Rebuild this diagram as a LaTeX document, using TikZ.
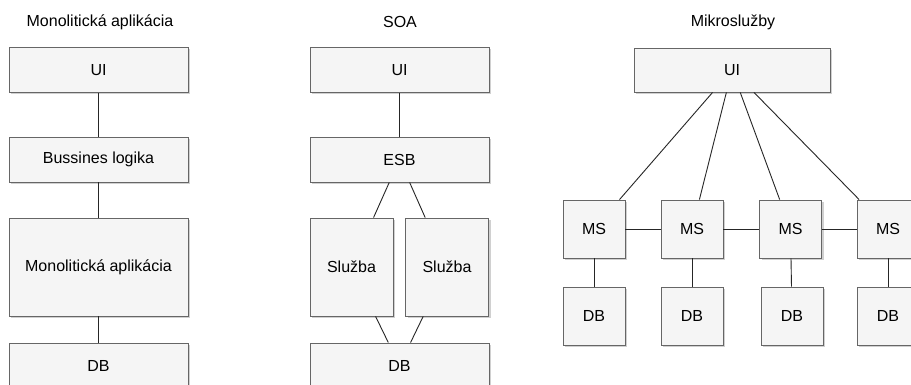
\documentclass[tikz,border=0pt]{standalone}
\usepackage{fontspec}
\setmainfont{Liberation Sans}
\usetikzlibrary{shadows}

\begin{document}
\begin{tikzpicture}[x=1pt, y=-1pt,
    every node/.style={font=\fontsize{16}{19}\selectfont},
    box/.style={draw=black!60, fill=black!4, line width=0.9pt, inner sep=0pt,
        drop shadow={shadow xshift=2pt, shadow yshift=-2pt, opacity=0.3, fill=black!60}},
    wide/.style={box, minimum width=179pt, minimum height=45pt},
    small/.style={box, minimum width=62pt, minimum height=58pt},
    link/.style={draw=black!85, line width=0.9pt}]
    \path[use as bounding box, clip] (0,0) rectangle (911,385);
    \fill[white] (0,0) rectangle (911,385);

    % Monolit
    \node (t1) at (100,22) {Monolitická aplikácia};
    \node[wide] (ui1) at (98.5,70) {UI};
    \node[wide] (bl) at (98.5,159.5) {Bussines logika};
    \node[wide, minimum height=98pt] (mono) at (98.5,267) {Monolitická aplikácia};
    \node[wide] (db1) at (98.5,365.5) {DB};
    \draw[link] (ui1) -- (bl);
    \draw[link] (bl) -- (mono);
    \draw[link] (mono) -- (db1);

    % SOA
    \node (t2) at (400,22) {SOA};
    \node[wide] (ui2) at (399.5,70) {UI};
    \node[wide] (esb) at (399.5,159.5) {ESB};
    \node[box, minimum width=83pt, minimum height=98pt] (sl1) at (351.5,267) {Služba};
    \node[box, minimum width=83pt, minimum height=98pt] (sl2) at (447,267) {Služba};
    \node[wide] (db2) at (399.5,365.5) {DB};
    \draw[link] (ui2) -- (esb);
    \draw[link] (esb) -- (sl1);
    \draw[link] (esb) -- (sl2);
    \draw[link] (sl1) -- (db2);
    \draw[link] (sl2) -- (db2);

    % Mikrosluzby
    \node (t3) at (733,22) {Mikroslužby};
    \node[wide, minimum width=196pt, minimum height=44pt] (ui3) at (732,70) {UI};
    \foreach \i/\x/\d in {1/594/594, 2/692/692, 3/790.5/792, 4/888/888} {
        \node[small] (ms\i) at (\x,229) {MS};
        \node[small] (dbm\i) at (\d,316) {DB};
        \draw[link] (ui3) -- (ms\i);
        \draw[link] (ms\i) -- (dbm\i);
    }
    \draw[link] (ms1) -- (ms2);
    \draw[link] (ms2) -- (ms3);
    \draw[link] (ms3) -- (ms4);
\end{tikzpicture}
\end{document}
